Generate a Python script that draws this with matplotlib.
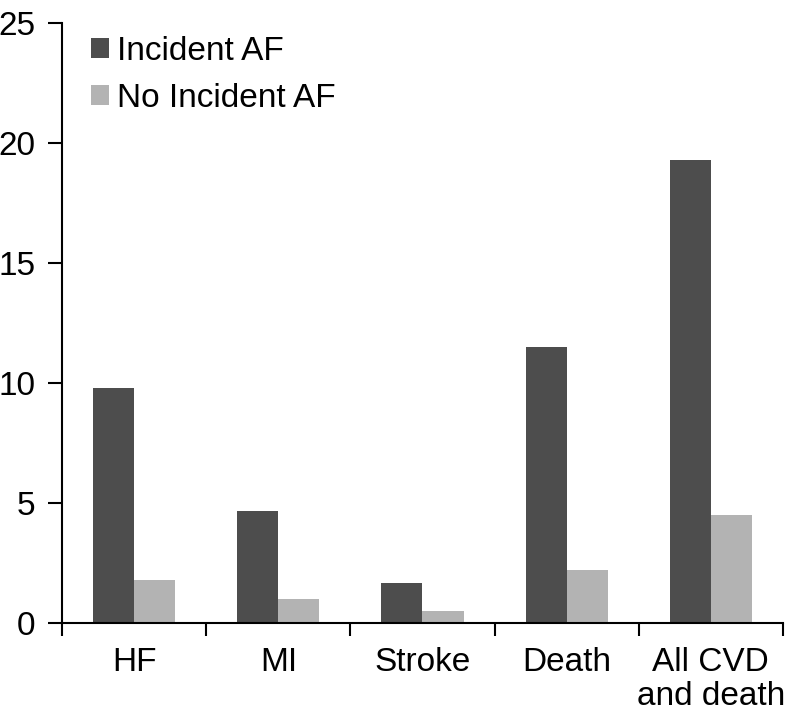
import numpy as np
import matplotlib
matplotlib.use("Agg")
import matplotlib.pyplot as plt

plt.rcParams['font.family'] = ['Liberation Sans', 'DejaVu Sans']

categories = ['HF', 'MI', 'Stroke', 'Death', 'All CVD\nand death']
incident_af = [9.8, 4.65, 1.65, 11.5, 19.3]
no_incident_af = [1.8, 1.0, 0.5, 2.2, 4.5]

fig = plt.figure(figsize=(7.86, 7.22), dpi=100)
ax = fig.add_axes([0.079, 0.137, 0.917, 0.831])

x = np.arange(len(categories))
w = 0.285
ax.bar(x - w / 2, incident_af, w, color='#4d4d4d', label='Incident AF')
ax.bar(x + w / 2, no_incident_af, w, color='#b3b3b3', label='No Incident AF')

ax.set_xlim(-0.5, len(categories) - 0.5)
ax.set_ylim(0, 25)
ax.set_yticks([0, 5, 10, 15, 20, 25])

# tick marks between groups, labels in the middle
ax.set_xticks(np.arange(len(categories) + 1) - 0.5)
ax.set_xticklabels([])
ax.set_xticks(x, minor=True)
ax.set_xticklabels(categories, minor=True, linespacing=1.12)
ax.tick_params(axis='x', which='major', length=9, width=1.5, direction='out')
ax.tick_params(axis='x', which='minor', length=0, pad=17, labelsize=24)
ax.tick_params(axis='y', length=10, width=1.5, direction='out', pad=9, labelsize=24)

for s in ['top', 'right']:
    ax.spines[s].set_visible(False)
ax.spines['left'].set_linewidth(1.5)
ax.spines['bottom'].set_linewidth(1.5)

ax.legend(loc='upper left', bbox_to_anchor=(0.012, 1.012), frameon=False, fontsize=24,
          handlelength=0.55, handleheight=0.55, handletextpad=0.25, labelspacing=0.48,
          borderaxespad=0.2)

fig.savefig('out.png', dpi=100)
